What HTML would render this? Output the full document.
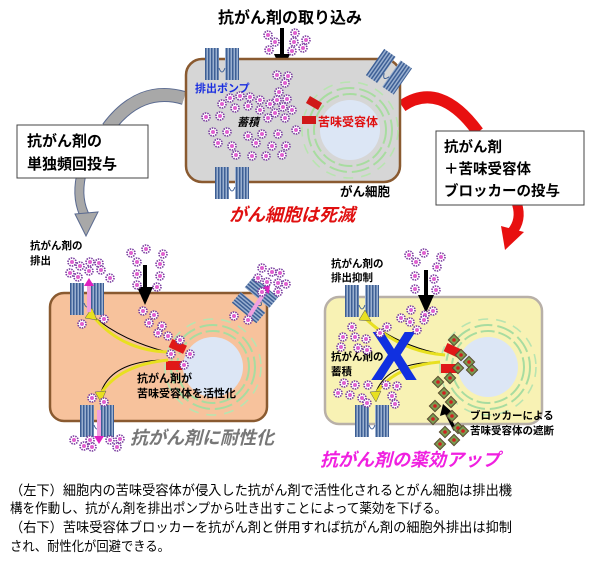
<!DOCTYPE html>
<html><head><meta charset="utf-8">
<style>
html,body{margin:0;padding:0;background:#fff;}
svg{display:block;font-family:"Liberation Sans","Noto Sans CJK JP",sans-serif;}
</style></head>
<body>
<svg width="600" height="568" viewBox="0 0 600 568" xmlns="http://www.w3.org/2000/svg">
<defs>
 <g id="d"><circle r="4" fill="#fff" stroke="#7a3fa0" stroke-width="1.6" stroke-dasharray="1.5 1"/><circle r="2" fill="#e060d0"/></g>
 <g id="b"><rect x="-4" y="-4" width="8" height="8" transform="rotate(45)" fill="#7a9a50" stroke="#5a4a30" stroke-width="1"/><circle r="1.8" fill="#d02020"/></g>
 <pattern id="pp" width="3" height="10" patternUnits="userSpaceOnUse"><rect width="3" height="10" fill="#9ab0d0"/><rect width="1.5" height="10" fill="#3d5f95"/></pattern>
 <g id="pump"><rect x="0" y="0" width="14" height="32" fill="url(#pp)"/><rect x="20" y="0" width="14" height="32" fill="url(#pp)"/><path d="M14 20 Q17 28 20 20" stroke="#3d5f95" fill="none"/></g>
 <g id="nuc"><circle r="30" fill="#dce6f5"/><circle r="36" fill="none" stroke="#a8dca0" stroke-width="2" stroke-dasharray="14 4"/><circle r="42" fill="none" stroke="#a8dca0" stroke-width="2" stroke-dasharray="18 5"/><circle r="48" fill="none" stroke="#b8e4b0" stroke-width="1.6" stroke-dasharray="10 8"/></g>
</defs>

<!-- Title -->
<text x="290" y="23" font-size="16" font-weight="bold" text-anchor="middle">抗がん剤の取り込み</text>
<line x1="282" y1="28" x2="282" y2="58" stroke="#000" stroke-width="4"/>
<path d="M274 54 L290 54 L282 72 Z" fill="#000"/>

<!-- grey curved arrow (behind box) -->
<path d="M184 98 Q140 85 108 128" stroke="#5a6a90" stroke-width="14" fill="none"/>
<path d="M184 98 Q140 85 108 128" stroke="#a8a8a8" stroke-width="12" fill="none"/>
<path d="M81 176 Q76 200 86 218" stroke="#5a6a90" stroke-width="10" fill="none"/>
<path d="M81 176 Q76 200 86 218" stroke="#a8a8a8" stroke-width="8" fill="none"/>
<path d="M75 214 L98 212 L86 236 Z" fill="#a8a8a8" stroke="#5a6a90" stroke-width="1"/>
<!-- red curved arrow (behind box) -->
<path d="M402 106 Q440 80 478 132" stroke="#e81010" stroke-width="12" fill="none"/>
<path d="M517 204 Q522 220 512 232" stroke="#e81010" stroke-width="10" fill="none"/>
<path d="M501 226 L524 232 L505 250 Z" fill="#e81010"/>

<!-- top cell -->
<rect x="186" y="59" width="214" height="123" rx="16" fill="#d6d6d6" stroke="#8a5a30" stroke-width="2.5"/>
<g transform="translate(350,130)"><use href="#nuc"/></g>
<use href="#pump" x="205" y="48"/>
<use href="#pump" x="215" y="167"/>
<g transform="translate(375,62) rotate(35)"><use href="#pump" x="0" y="-16"/></g>
<rect x="307" y="99" width="14" height="8" fill="#d01818" transform="rotate(30 314 103)"/>
<rect x="302" y="116" width="14" height="8" fill="#d01818"/>
<text x="195" y="92" font-size="11" font-weight="bold" fill="#1a2ee0">排出ポンプ</text>
<text x="318" y="126" font-size="12" font-weight="bold" fill="#e01010">苦味受容体</text>
<text x="237" y="126" font-size="11" font-weight="bold" font-style="italic">蓄積</text>
<text x="340" y="196" font-size="12.5" font-weight="bold">がん細胞</text>
<text x="292" y="221" font-size="18" font-weight="bold" font-style="italic" fill="#e01010" text-anchor="middle">がん細胞は死滅</text>
<g>
<use href="#d" x="268" y="35"/><use href="#d" x="295" y="33"/><use href="#d" x="275" y="42"/><use href="#d" x="294" y="42"/><use href="#d" x="306" y="40"/><use href="#d" x="269" y="50"/><use href="#d" x="292" y="51"/><use href="#d" x="303" y="48"/>
<use href="#d" x="277" y="75"/><use href="#d" x="288" y="76"/><use href="#d" x="285" y="83"/><use href="#d" x="279" y="92"/><use href="#d" x="277" y="100"/><use href="#d" x="287" y="99"/>
<use href="#d" x="230" y="98"/><use href="#d" x="240" y="96"/><use href="#d" x="250" y="97"/><use href="#d" x="260" y="100"/><use href="#d" x="270" y="104"/><use href="#d" x="283" y="107"/><use href="#d" x="292" y="110"/>
<use href="#d" x="222" y="104"/><use href="#d" x="235" y="108"/><use href="#d" x="248" y="106"/><use href="#d" x="260" y="110"/><use href="#d" x="275" y="113"/><use href="#d" x="206" y="117"/><use href="#d" x="220" y="116"/><use href="#d" x="268" y="118"/><use href="#d" x="285" y="118"/>
<use href="#d" x="213" y="132"/><use href="#d" x="227" y="132"/><use href="#d" x="248" y="136"/><use href="#d" x="262" y="134"/><use href="#d" x="278" y="134"/><use href="#d" x="296" y="130"/>
<use href="#d" x="218" y="143"/><use href="#d" x="232" y="146"/><use href="#d" x="256" y="143"/><use href="#d" x="272" y="146"/><use href="#d" x="286" y="146"/><use href="#d" x="236" y="155"/><use href="#d" x="252" y="156"/><use href="#d" x="266" y="156"/><use href="#d" x="282" y="155"/>
</g>

<!-- left box -->
<rect x="17" y="125" width="131" height="53" fill="#fff" stroke="#444" stroke-width="1"/>
<text x="27" y="146" font-size="15" font-weight="bold">抗がん剤の</text>
<text x="27" y="169" font-size="15" font-weight="bold">単独頻回投与</text>
<!-- right box -->
<rect x="436" y="131" width="148" height="74" fill="#fff" stroke="#444" stroke-width="1"/>
<text x="444" y="152" font-size="14.5" font-weight="bold">抗がん剤</text>
<text x="444" y="174" font-size="14.5" font-weight="bold">＋苦味受容体</text>
<text x="444" y="196" font-size="14.5" font-weight="bold">ブロッカーの投与</text>

<!-- bottom left cell -->
<rect x="50" y="293" width="217" height="128" rx="14" fill="#f7c29c" stroke="#8a5a30" stroke-width="2.5"/>
<g transform="translate(213,367)"><use href="#nuc"/></g>
<use href="#pump" x="70" y="283"/>
<use href="#pump" x="80" y="405"/>
<g transform="translate(255,300) rotate(-50)"><use href="#pump" x="-17" y="-16"/></g>
<rect x="170" y="342" width="16" height="9" fill="#e01818" transform="rotate(25 178 346)"/>
<rect x="166" y="361" width="16" height="9" fill="#e01818"/>
<path d="M167 352 Q120 340 92 315" stroke="#000" stroke-width="1" fill="none"/>
<path d="M167 352 Q120 350 92 315" stroke="#e8e020" stroke-width="3" fill="none"/>
<path d="M168 360 Q110 360 100 395" stroke="#000" stroke-width="1" fill="none"/>
<path d="M168 360 Q118 365 100 395" stroke="#e8e020" stroke-width="3" fill="none"/>
<path d="M85 318 L92 308 L97 320 Z" fill="#e8e020" stroke="#555" stroke-width="0.5"/>
<path d="M95 392 L101 402 L106 391 Z" fill="#e8e020" stroke="#555" stroke-width="0.5"/>
<rect x="87" y="284" width="4" height="28" fill="#f0a0e0"/><path d="M84 286 L89 278 L94 286Z" fill="#e020c0"/>
<rect x="97" y="410" width="4" height="28" fill="#f0a0e0"/><path d="M94 436 L99 444 L104 436Z" fill="#e020c0"/>
<line x1="248" y1="318" x2="266" y2="290" stroke="#f0a0e0" stroke-width="4"/><path d="M262 288 L270 284 L269 294Z" fill="#e020c0"/>
<text x="30" y="249" font-size="10.5" font-weight="bold">抗がん剤の</text>
<text x="30" y="264" font-size="10.5" font-weight="bold">排出</text>
<text x="137" y="382" font-size="11" font-weight="bold">抗がん剤が</text>
<text x="137" y="397" font-size="11" font-weight="bold">苦味受容体を活性化</text>
<text x="130" y="444" font-size="18" font-weight="bold" font-style="italic" fill="#777">抗がん剤に耐性化</text>
<line x1="145" y1="265" x2="145" y2="290" stroke="#000" stroke-width="4"/>
<path d="M137 287 L153 287 L145 305 Z" fill="#000"/>
<g>
<use href="#d" x="131" y="253"/><use href="#d" x="146" y="249"/><use href="#d" x="163" y="254"/><use href="#d" x="137" y="262"/><use href="#d" x="160" y="264"/><use href="#d" x="137" y="274"/><use href="#d" x="160" y="276"/><use href="#d" x="137" y="285"/><use href="#d" x="157" y="287"/>
<use href="#d" x="72" y="262"/><use href="#d" x="80" y="266"/><use href="#d" x="90" y="262"/><use href="#d" x="99" y="263"/><use href="#d" x="70" y="273"/><use href="#d" x="89" y="271"/><use href="#d" x="101" y="270"/><use href="#d" x="78" y="277"/><use href="#d" x="110" y="278"/>
<use href="#d" x="262" y="268"/><use href="#d" x="272" y="272"/><use href="#d" x="280" y="273"/><use href="#d" x="258" y="278"/><use href="#d" x="267" y="282"/><use href="#d" x="278" y="283"/><use href="#d" x="286" y="284"/><use href="#d" x="262" y="292"/><use href="#d" x="278" y="292"/>
<use href="#d" x="234" y="316"/><use href="#d" x="248" y="320"/>
<use href="#d" x="104" y="319"/><use href="#d" x="82" y="324"/>
<use href="#d" x="143" y="311"/><use href="#d" x="154" y="315"/><use href="#d" x="149" y="323"/><use href="#d" x="162" y="326"/><use href="#d" x="158" y="333"/><use href="#d" x="168" y="336"/><use href="#d" x="180" y="340"/><use href="#d" x="171" y="354"/><use href="#d" x="190" y="354"/><use href="#d" x="184" y="365"/>
<use href="#d" x="92" y="398"/><use href="#d" x="104" y="402"/>
<use href="#d" x="74" y="440"/><use href="#d" x="84" y="446"/><use href="#d" x="90" y="440"/><use href="#d" x="92" y="447"/><use href="#d" x="110" y="440"/><use href="#d" x="117" y="447"/><use href="#d" x="120" y="439"/>
</g>

<!-- bottom right cell -->
<rect x="325" y="297" width="217" height="127" rx="14" fill="#f8f2b4" stroke="#b8b0a8" stroke-width="2.5"/>
<g transform="translate(488,367)"><use href="#nuc"/></g>
<use href="#pump" x="345" y="285"/>
<use href="#pump" x="355" y="405"/>
<rect x="445" y="346" width="16" height="9" fill="#e01818" transform="rotate(25 453 350)"/>
<rect x="441" y="364" width="16" height="9" fill="#e01818"/>
<path d="M445 355 Q395 345 365 318" stroke="#000" stroke-width="1" fill="none"/>
<path d="M445 355 Q400 352 365 318" stroke="#e8e020" stroke-width="3" fill="none"/>
<path d="M440 362 Q385 362 375 395" stroke="#000" stroke-width="1" fill="none"/>
<path d="M440 362 Q393 366 375 395" stroke="#e8e020" stroke-width="3" fill="none"/>
<path d="M359 320 L365 310 L371 321 Z" fill="#e8e020" stroke="#555" stroke-width="0.5"/>
<path d="M370 392 L376 402 L381 391 Z" fill="#e8e020" stroke="#555" stroke-width="0.5"/>
<text x="394" y="380" font-size="70" font-weight="bold" fill="#1030e0" text-anchor="middle" font-family="Liberation Sans, sans-serif">X</text>
<text x="331" y="267" font-size="10.5" font-weight="bold">抗がん剤の</text>
<text x="331" y="281" font-size="10.5" font-weight="bold">排出抑制</text>
<text x="331" y="360" font-size="10.5" font-weight="bold">抗がん剤の</text>
<text x="331" y="375" font-size="10.5" font-weight="bold">蓄積</text>
<text x="470" y="419" font-size="10.5" font-weight="bold">ブロッカーによる</text>
<text x="470" y="434" font-size="10.5" font-weight="bold">苦味受容体の遮断</text>
<text x="320" y="466" font-size="18" font-weight="bold" font-style="italic" fill="#f020e0">抗がん剤の薬効アップ</text>
<line x1="426" y1="270" x2="426" y2="298" stroke="#000" stroke-width="4"/>
<path d="M418 295 L434 295 L426 313 Z" fill="#000"/>
<line x1="455" y1="430" x2="446" y2="412" stroke="#000" stroke-width="3.5"/>
<path d="M440 416 L443 404 L452 412 Z" fill="#000"/>
<g>
<use href="#d" x="409" y="255"/><use href="#d" x="424" y="253"/><use href="#d" x="441" y="257"/><use href="#d" x="416" y="262"/><use href="#d" x="437" y="267"/><use href="#d" x="415" y="276"/><use href="#d" x="434" y="279"/><use href="#d" x="415" y="289"/><use href="#d" x="436" y="290"/>
<use href="#d" x="411" y="310"/><use href="#d" x="425" y="315"/><use href="#d" x="433" y="311"/><use href="#d" x="401" y="318"/><use href="#d" x="410" y="322"/><use href="#d" x="424" y="320"/><use href="#d" x="387" y="327"/><use href="#d" x="380" y="333"/><use href="#d" x="417" y="330"/>
<use href="#d" x="352" y="327"/><use href="#d" x="343" y="337"/><use href="#d" x="355" y="337"/><use href="#d" x="366" y="339"/><use href="#d" x="341" y="347"/><use href="#d" x="358" y="348"/><use href="#d" x="367" y="350"/>
<use href="#d" x="344" y="383"/><use href="#d" x="355" y="385"/><use href="#d" x="368" y="385"/><use href="#d" x="338" y="393"/><use href="#d" x="350" y="395"/><use href="#d" x="362" y="398"/><use href="#d" x="367" y="403"/><use href="#d" x="386" y="385"/><use href="#d" x="397" y="386"/><use href="#d" x="392" y="396"/><use href="#d" x="395" y="404"/>
</g>
<g>
<use href="#b" x="454" y="340"/><use href="#b" x="461" y="355"/><use href="#b" x="469" y="362"/><use href="#b" x="458" y="368"/><use href="#b" x="472" y="370"/><use href="#b" x="450" y="378"/><use href="#b" x="438" y="382"/><use href="#b" x="444" y="393"/><use href="#b" x="435" y="406"/><use href="#b" x="451" y="402"/><use href="#b" x="433" y="419"/><use href="#b" x="452" y="416"/><use href="#b" x="458" y="428"/><use href="#b" x="445" y="432"/><use href="#b" x="463" y="431"/><use href="#b" x="454" y="440"/><use href="#b" x="440" y="444"/>
</g>

<!-- caption -->
<g font-size="13.5">
<text x="10" y="495" textLength="502" lengthAdjust="spacingAndGlyphs">（左下）細胞内の苦味受容体が侵入した抗がん剤で活性化されるとがん細胞は排出機</text>
<text x="10" y="513" textLength="437" lengthAdjust="spacingAndGlyphs">構を作動し、抗がん剤を排出ポンプから吐き出すことによって薬効を下げる。</text>
<text x="10" y="532" textLength="502" lengthAdjust="spacingAndGlyphs">（右下）苦味受容体ブロッカーを抗がん剤と併用すれば抗がん剤の細胞外排出は抑制</text>
<text x="10" y="551" textLength="160" lengthAdjust="spacingAndGlyphs">され、耐性化が回避できる。</text>
</g>
</svg>
</body></html>
